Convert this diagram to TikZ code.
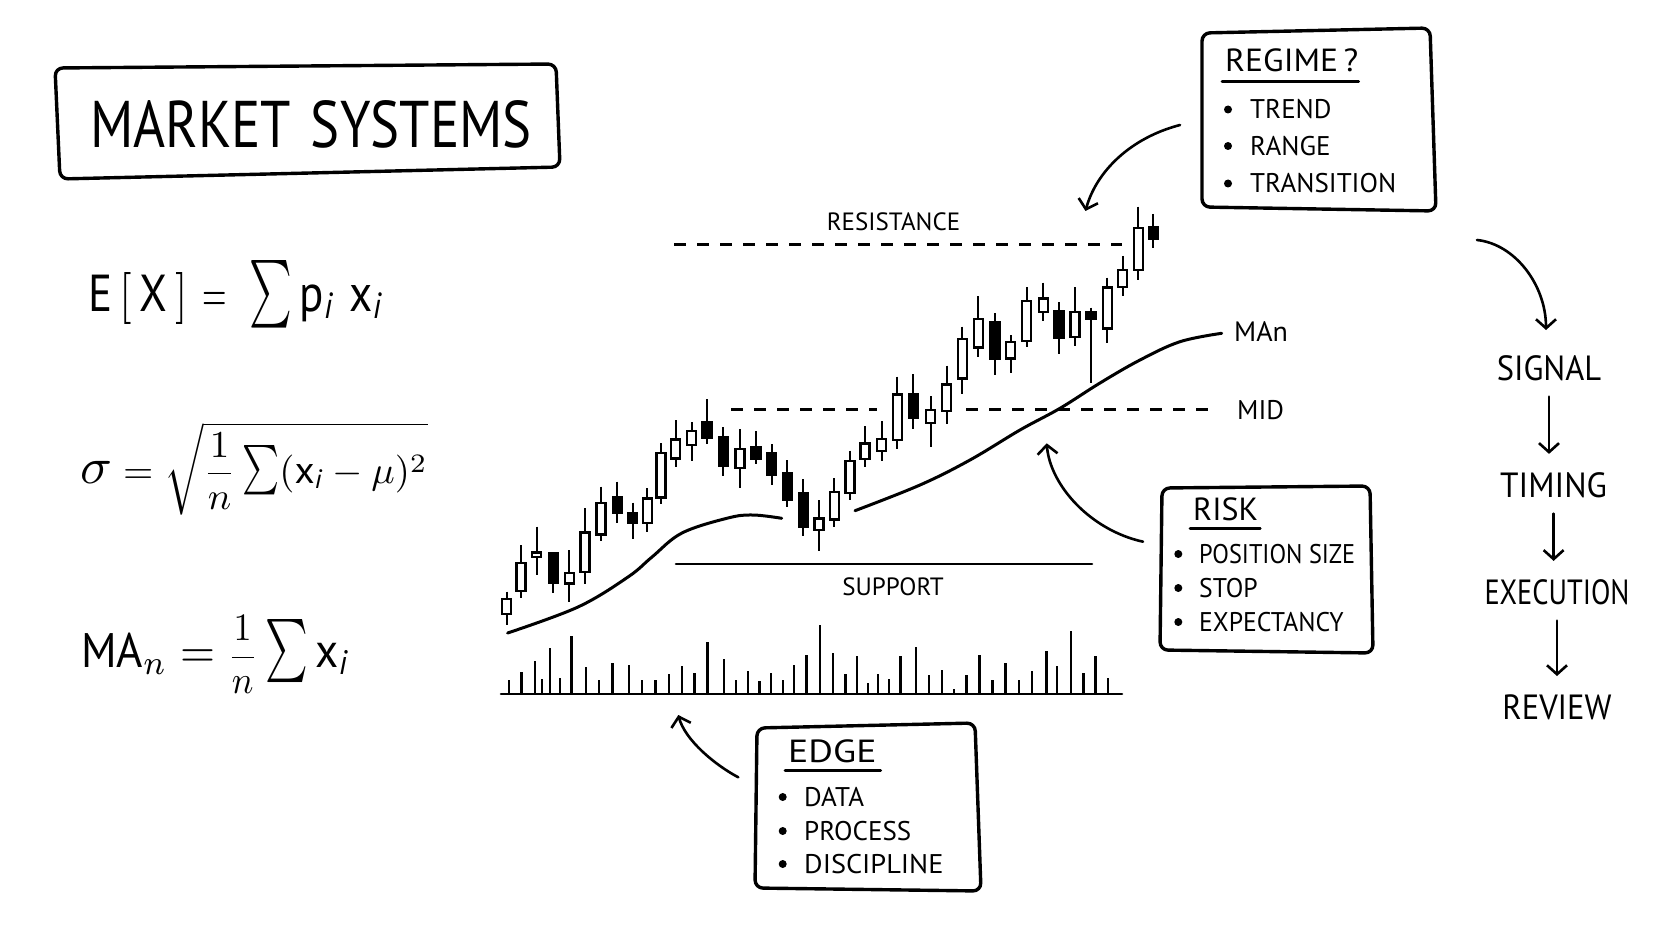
\documentclass[tikz,border=0pt]{standalone}
\usepackage{amsmath}
\usepackage{graphicx}
\usepackage{fontspec}
\setmainfont{PT Sans}
\setsansfont{PT Sans}
\usetikzlibrary{arrows.meta,calc}
\tikzset{
  ink/.style={line width=3pt, line cap=round, line join=round},
  frame/.style={line width=3.4pt, line join=round, rounded corners=8pt},
  arr/.style={line width=2.6pt, line cap=round, -{Straight Barb[length=9pt,width=20pt]}},
  wick/.style={line width=2.2pt},
  body/.style={line width=2.4pt},
  vol/.style={line width=2.4pt},
  dashln/.style={line width=2.2pt, dash pattern=on 12pt off 11pt},
  maln/.style={line width=3pt, line cap=round},
  txt/.style={inner sep=0pt, anchor=base west},
  ctxt/.style={inner sep=0pt, anchor=base},
  ttl/.style={txt, font=\fontsize{32}{36}\selectfont},
  itm/.style={txt, font=\fontsize{27}{30}\selectfont},
  chl/.style={font=\fontsize{25}{28}\selectfont},
  flw/.style={ctxt, font=\fontsize{35}{40}\selectfont},
  fml/.style={inner sep=0pt, anchor=base west},
  ul/.style={line width=2.8pt, line cap=round},
}
\newcommand{\bigsum}{\scalebox{0.9}[1.3]{$\sum$}}
\begin{document}
\begin{tikzpicture}[x=1pt,y=-1pt]
\useasboundingbox (0,0) rectangle (1672,941);
\fill[white] (0,0) rectangle (1672,941);

% ---------- title ----------
\coordinate (tA) at (55,68);
\coordinate (tB) at (556,64);
\coordinate (tC) at (560,167);
\coordinate (tD) at (60,179);
\draw[frame] (tA) -- (tB) -- (tC) -- (tD) -- cycle;
\node[ctxt, font=\fontsize{66}{70}\selectfont] (title) at (311,148) {\scalebox{0.83}[1]{MARKET\hspace{0.36em}SYSTEMS}};

% ---------- formulas ----------
\node[fml] (fe) at (88,311) {\scalebox{4.5}[5.2]{$\mathrm{E}\,[\,\mathrm{X}\,]\mkern6mu\scalebox{0.7}[1]{$=$}\mkern9mu\bigsum\mkern3mu\mathrm{p}_{\mathit{i}}\mkern6mu\mathrm{x}_{\mathit{i}}$}};
\node[fml] (fs) at (80,483) {\scalebox{3.9}[3.8]{$\scalebox{1.35}{$\sigma$} = \sqrt{\dfrac{1}{n}\,\bigsum(\mathrm{x}_{\mathit{i}}-\mu)^2}$}};
\node[fml] (fm) at (81,667) {\scalebox{4.5}[4.85]{$\mathrm{MA}_n = \scalebox{0.8}{$\dfrac{1}{n}$}\,\bigsum\mkern3mu\mathrm{x}_{\mathit{i}}$}};

% ---------- chart lines ----------
\draw[dashln] (674,244.5) -- (1122,244.5);
\draw[dashln] (731,409.5) -- (877,409.5);
\draw[dashln] (966,409.5) -- (1212,409.5);
\draw[ink, line width=2.6pt] (676,564) -- (1092,564);

\node[ctxt, chl] (res) at (893.5,231) {RESISTANCE};
\node[ctxt, chl] (sup) at (893,595) {SUPPORT};
\node[txt, chl, font=\fontsize{28}{30}\selectfont] (man) at (1234,341) {MAn};
\node[txt, chl, font=\fontsize{27}{30}\selectfont] (mid) at (1237,419) {MID};

% moving average
\draw[maln] plot[smooth, tension=0.6] coordinates {(507.6,633) (578,607) (628,577) (652,557) (682,533) (728,518) (753,515) (781.7,518.3)};
\draw[maln] plot[smooth, tension=0.6] coordinates {(855,510.7) (920,485) (970,460) (1020,430) (1060,408.3) (1100,383) (1140,360) (1180,341.7) (1221.7,333.3)};

% candles: x / wick top / body top / body bottom / wick bottom / fill
\foreach \x/\wt/\bt/\bb/\wb/\f in {
506.7/591.7/599/614/625/white,
521/545/562.7/591/598.3/white,
536.7/526.7/552.3/557/575/white,
553.3/552.3/553.3/582.7/592.7/black,
569.3/550/572.7/583.3/601.7/white,
585/508.3/532.3/571.7/584.3/white,
601/486.7/502.7/534.3/541/white,
617.3/481.7/497.3/512.7/523.3/black,
632.7/502.7/512.7/522.7/539/black,
647.3/488.3/498.3/522.7/531.7/white,
661/443.3/452.7/497.3/504.3/white,
675.7/420/439.3/458.3/467.3/white,
691.7/422.3/431/445/461/white,
707/399/421.7/437.7/444/black,
723.3/427.3/437.3/466/476/black,
740/429/449/467.7/487.7/white,
756/431/447.3/459/464/black,
771.7/444.3/453.3/474.3/485/black,
787.3/460/472.7/499.3/506.7/black,
803.3/479.3/492.7/526.7/536/black,
819/500/518.3/530/551/white,
834.3/478.3/491.7/519.3/526.7/white,
850/450.7/461/492.7/500/white,
865/426/443.3/459/467.3/white,
881.7/421/439/450.7/461/white,
897.3/376.7/394.3/440/449.3/white,
913.3/374.3/394/417.7/429.3/black,
930.7/396/410/422.7/446.7/white,
946.7/365.7/384.3/410.7/424.3/white,
962.3/326.7/339/378.3/394/white,
978.3/296/319/347.3/356.7/white,
995/313.3/321.7/359/375/black,
1010.7/335/341.7/358.3/372.7/white,
1026.7/287.3/301/340.7/347.3/white,
1043.3/282.7/298.3/311.7/320.7/white,
1059/302.3/311/337.3/354/black,
1075/287.3/311.7/336.7/345.7/white,
1091/307.7/312.3/318.3/383.3/black,
1107.3/277.7/287.3/328.3/342.7/white,
1122.7/256/270/286.7/296/white,
1138.3/206.7/228.3/270/280/white,
1153.3/214/227.3/239.3/248.3/black}{
  \draw[wick] (\x,\wt) -- (\x,\bt);
  \draw[wick] (\x,\bb) -- (\x,\wb);
  \filldraw[body, fill=\f] (\x-4.5,\bt) rectangle (\x+4.5,\bb);
}

% volume
\draw[ink, line width=2.6pt] (501,694) -- (1122,694);
\foreach \x/\h in {509.2/14.4,521.4/22.5,534.9/32.7,541.9/15.1,550/45.6,560.2/16.1,571.3/58.4,586/27.3,599.1/13.8,612.5/31.1,628.9/29.5,642/14.4,655.4/14.4,668.9/19.9,682/27.9,694.3/21.5,707.3/52,723.7/35.3,736/13.8,748.2/23.4,759.6/12.8,771.1/21.5,782.9/14.4,794/29.5,806.6/39.2,819.7/69,833.2/41.1,845.4/20.2,856.9/37.6,867.9/11.2,877.7/19.9,888.8/15.1,900.6/37.6,915.7/47.2,928.8/18.6,941.9/24.1,953.7/4.8,966.4/19.3,979.5/39.2,992.5/14.4,1005.6/31.1,1018.7/14.4,1031.8/23.4,1046.5/43.3,1057.1/27.9,1071/62.6,1083.3/21.5,1095.5/37.6,1107.8/16.1}{
  \draw[vol] (\x,694) -- (\x,694-\h);
}

% ---------- regime box ----------
\coordinate (rA) at (1202,33);
\coordinate (rB) at (1430,28);
\coordinate (rC) at (1436,211);
\coordinate (rD) at (1202,207);
\draw[frame] (rA) -- (rB) -- (rC) -- (rD) -- cycle;
\node[ttl] (rgT) at (1225,72) {\scalebox{1.05}[1]{REGIME\,?}};
\draw[ul] ($(rgT.base west)+(-3,9.5)$) -- ($(rgT.base east)+(0,9.5)$);
\node[itm] (rg1) at (1250,119) {TREND};
\node[itm] (rg2) at (1250,156) {RANGE};
\node[itm] (rg3) at (1250,193) {TRANSITION};
\foreach \y in {109.5,146,183.5} \fill (1228,\y) circle[radius=4pt];

% ---------- risk box ----------
\coordinate (kA) at (1162,488);
\coordinate (kB) at (1370,486);
\coordinate (kC) at (1373,653);
\coordinate (kD) at (1160,650);
\draw[frame] (kA) -- (kB) -- (kC) -- (kD) -- cycle;
\node[ttl] (rkT) at (1193,520) {RISK};
\draw[ul] ($(rkT.base west)+(-3,8.5)$) -- ($(rkT.base east)+(2,8.5)$);
\node[itm] (rk1) at (1199,563.3) {\scalebox{0.9}[1]{POSITION SIZE}};
\node[itm] (rk2) at (1199,597) {\scalebox{0.95}[1]{STOP}};
\node[itm] (rk3) at (1199,631.7) {\scalebox{0.95}[1]{EXPECTANCY}};
\foreach \y in {554,588,622} \fill (1178.3,\y) circle[radius=4pt];

% ---------- edge box ----------
\coordinate (eA) at (757,728);
\coordinate (eB) at (975,723);
\coordinate (eC) at (981,891);
\coordinate (eD) at (755,888);
\draw[frame] (eA) -- (eB) -- (eC) -- (eD) -- cycle;
\node[ttl] (edT) at (788,762) {\scalebox{1.18}[1]{EDGE}};
\draw[ul] ($(edT.base west)+(-3,8.5)$) -- ($(edT.base east)+(4,8.5)$);
\node[itm] (ed1) at (804,806) {DATA};
\node[itm] (ed2) at (804,840) {PROCESS};
\node[itm] (ed3) at (804,873.3) {\scalebox{1.05}[1]{DISCIPLINE}};
\foreach \y in {797,831,864} \fill (782.7,\y) circle[radius=4pt];

% ---------- process flow ----------
\node[flw] (sig) at (1549,380) {\scalebox{0.93}[1]{SIGNAL}};
\node[flw] (tim) at (1553.6,497) {\scalebox{0.95}[1]{TIMING}};
\node[flw] (exe) at (1557,604) {\scalebox{0.81}[1]{EXECUTION}};
\node[flw] (rev) at (1557,719) {\scalebox{0.93}[1]{REVIEW}};
\draw[arr, shorten <=16pt, shorten >=18pt] (sig.south) -- (sig.south |- tim.north);
\draw[arr, shorten <=16pt, shorten >=18pt] (tim.south) -- (tim.south |- exe.north);
\draw[arr, shorten <=16pt, shorten >=18pt] (exe.south) -- (exe.south |- rev.north);

% ---------- curved arrows ----------
\coordinate (rgA) at (1180,125);
\coordinate (rgB) at (1085.5,211);
\draw[arr] (rgA) .. controls (1130,138) and (1096,172) .. (rgB);
\coordinate (flA) at (1477,240);
\coordinate (flB) at (1546,330);
\draw[arr] (flA) .. controls (1515,244) and (1546,285) .. (flB);
\coordinate (rkA) at (1143,541.7);
\coordinate (rkB) at (1046.7,443.3);
\draw[arr] (rkA) .. controls (1090,530) and (1050,485) .. (rkB);
\coordinate (edA) at (738.3,777.3);
\coordinate (edB) at (678.3,715);
\draw[arr] (edA) .. controls (715,765) and (685,740) .. (edB);
\end{tikzpicture}
\end{document}
